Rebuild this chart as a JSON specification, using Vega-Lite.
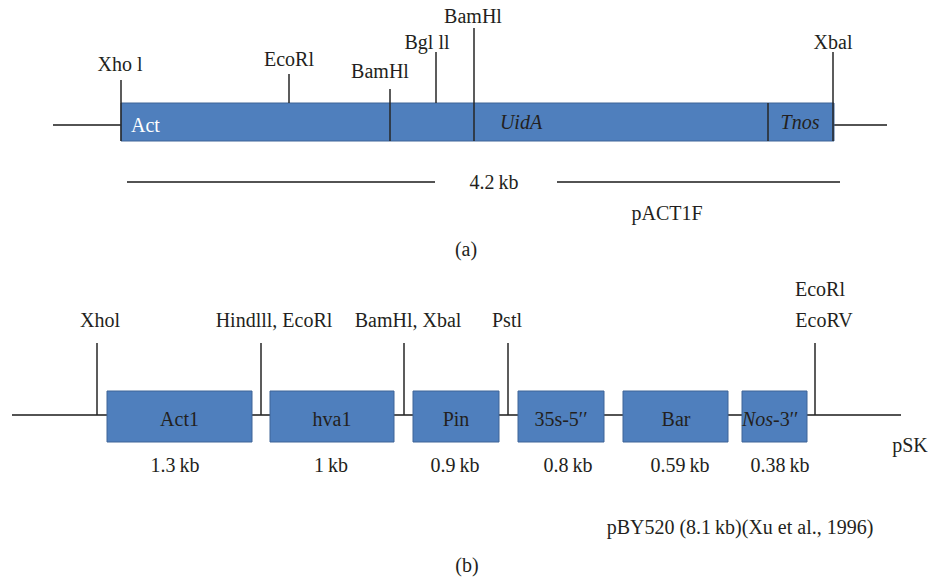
{
  "$schema": "https://vega.github.io/schema/vega-lite/v6.json",
  "width": 929,
  "height": 579,
  "autosize": {"type": "fit", "contains": "padding"},
  "padding": 0,
  "background": "#ffffff",
  "config": {"view": {"stroke": null}},
  "datasets": {
    "backbone": [
      {"x": 53, "x2": 121, "y": 125, "y2": 125},
      {"x": 833, "x2": 887, "y": 125, "y2": 125},
      {"x": 127, "x2": 435, "y": 182, "y2": 182},
      {"x": 557, "x2": 840, "y": 182, "y2": 182},
      {"x": 12, "x2": 901, "y": 415, "y2": 415}
    ],
    "boxes": [
      {"x": 121, "x2": 834, "y": 103, "y2": 141},
      {"x": 107, "x2": 252, "y": 391, "y2": 442},
      {"x": 270, "x2": 394, "y": 391, "y2": 442},
      {"x": 413, "x2": 499, "y": 391, "y2": 442},
      {"x": 518, "x2": 604, "y": 391, "y2": 442},
      {"x": 623, "x2": 728, "y": 391, "y2": 442},
      {"x": 742, "x2": 807, "y": 391, "y2": 442}
    ],
    "ticks": [
      {"x": 121, "x2": 121, "y": 80, "y2": 141},
      {"x": 289, "x2": 289, "y": 74, "y2": 103},
      {"x": 390, "x2": 390, "y": 89, "y2": 141},
      {"x": 436, "x2": 436, "y": 52, "y2": 103},
      {"x": 474, "x2": 474, "y": 28, "y2": 141},
      {"x": 768, "x2": 768, "y": 103, "y2": 141},
      {"x": 833, "x2": 833, "y": 52, "y2": 141},
      {"x": 97, "x2": 97, "y": 343, "y2": 415},
      {"x": 261, "x2": 261, "y": 343, "y2": 415},
      {"x": 404, "x2": 404, "y": 343, "y2": 415},
      {"x": 508, "x2": 508, "y": 343, "y2": 415},
      {"x": 815, "x2": 815, "y": 343, "y2": 415}
    ],
    "labels": [
      {"x": 120, "y": 71, "label": "Xho l"},
      {"x": 289, "y": 66, "label": "EcoRl"},
      {"x": 380, "y": 78, "label": "BamHl"},
      {"x": 427, "y": 49, "label": "Bgl ll"},
      {"x": 473, "y": 23, "label": "BamHl"},
      {"x": 833, "y": 49, "label": "Xbal"},
      {"x": 494, "y": 189, "label": "4.2\u2009kb"},
      {"x": 667, "y": 220, "label": "pACT1F"},
      {"x": 466, "y": 256, "label": "(a)"},
      {"x": 100, "y": 327, "label": "Xhol"},
      {"x": 274, "y": 327, "label": "Hindlll, EcoRl"},
      {"x": 408, "y": 327, "label": "BamHl, Xbal"},
      {"x": 507, "y": 327, "label": "Pstl"},
      {"x": 820, "y": 296, "label": "EcoRl"},
      {"x": 824, "y": 327, "label": "EcoRV"},
      {"x": 910, "y": 452, "label": "pSK"},
      {"x": 179.5, "y": 426, "label": "Act1"},
      {"x": 332, "y": 426, "label": "hva1"},
      {"x": 456, "y": 426, "label": "Pin"},
      {"x": 561, "y": 426, "label": "35s-5′′"},
      {"x": 676, "y": 426, "label": "Bar"},
      {"x": 175, "y": 472, "label": "1.3\u2009kb"},
      {"x": 331, "y": 472, "label": "1\u2009kb"},
      {"x": 455, "y": 472, "label": "0.9\u2009kb"},
      {"x": 568, "y": 472, "label": "0.8\u2009kb"},
      {"x": 680, "y": 472, "label": "0.59\u2009kb"},
      {"x": 780, "y": 472, "label": "0.38\u2009kb"},
      {"x": 740, "y": 534, "label": "pBY520 (8.1\u2009kb)(Xu et al., 1996)"},
      {"x": 467, "y": 572, "label": "(b)"}
    ],
    "italic": [
      {"x": 521, "y": 129, "label": "UidA"},
      {"x": 800, "y": 129, "label": "Tnos"}
    ],
    "italicRight": [
      {"x": 773, "y": 426, "label": "Nos"}
    ],
    "leftLabels": [
      {"x": 773, "y": 426, "label": "-3′′"}
    ],
    "white": [
      {"x": 131, "y": 132, "label": "Act"}
    ]
  },
  "layer": [
    {
      "data": {"name": "backbone"},
      "mark": {"type": "rule", "color": "#1a1a1a", "strokeWidth": 1.5},
      "encoding": {
        "x": {"field": "x", "type": "quantitative", "scale": {"domain": [0, 929]}, "axis": null},
        "x2": {"field": "x2"},
        "y": {"field": "y", "type": "quantitative", "scale": {"domain": [0, 579], "reverse": true}, "axis": null},
        "y2": {"field": "y2"}
      }
    },
    {
      "data": {"name": "boxes"},
      "mark": {"type": "rect", "fill": "#4f7fbd", "stroke": "#3f6597", "strokeWidth": 1},
      "encoding": {
        "x": {"field": "x", "type": "quantitative", "scale": {"domain": [0, 929]}, "axis": null},
        "x2": {"field": "x2"},
        "y": {"field": "y", "type": "quantitative", "scale": {"domain": [0, 579], "reverse": true}, "axis": null},
        "y2": {"field": "y2"}
      }
    },
    {
      "data": {"name": "ticks"},
      "mark": {"type": "rule", "color": "#262626", "strokeWidth": 1.5},
      "encoding": {
        "x": {"field": "x", "type": "quantitative", "scale": {"domain": [0, 929]}, "axis": null},
        "x2": {"field": "x2"},
        "y": {"field": "y", "type": "quantitative", "scale": {"domain": [0, 579], "reverse": true}, "axis": null},
        "y2": {"field": "y2"}
      }
    },
    {
      "data": {"name": "labels"},
      "mark": {"type": "text", "font": "Liberation Serif", "fontSize": 20, "color": "#231f20", "align": "center", "baseline": "alphabetic"},
      "encoding": {
        "x": {"field": "x", "type": "quantitative", "scale": {"domain": [0, 929]}, "axis": null},
        "y": {"field": "y", "type": "quantitative", "scale": {"domain": [0, 579], "reverse": true}, "axis": null},
        "text": {"field": "label"}
      }
    },
    {
      "data": {"name": "italic"},
      "mark": {"type": "text", "font": "Liberation Serif", "fontSize": 20, "fontStyle": "italic", "color": "#231f20", "align": "center", "baseline": "alphabetic"},
      "encoding": {
        "x": {"field": "x", "type": "quantitative", "scale": {"domain": [0, 929]}, "axis": null},
        "y": {"field": "y", "type": "quantitative", "scale": {"domain": [0, 579], "reverse": true}, "axis": null},
        "text": {"field": "label"}
      }
    },
    {
      "data": {"name": "italicRight"},
      "mark": {"type": "text", "font": "Liberation Serif", "fontSize": 20, "fontStyle": "italic", "color": "#231f20", "align": "right", "baseline": "alphabetic"},
      "encoding": {
        "x": {"field": "x", "type": "quantitative", "scale": {"domain": [0, 929]}, "axis": null},
        "y": {"field": "y", "type": "quantitative", "scale": {"domain": [0, 579], "reverse": true}, "axis": null},
        "text": {"field": "label"}
      }
    },
    {
      "data": {"name": "leftLabels"},
      "mark": {"type": "text", "font": "Liberation Serif", "fontSize": 20, "color": "#231f20", "align": "left", "baseline": "alphabetic"},
      "encoding": {
        "x": {"field": "x", "type": "quantitative", "scale": {"domain": [0, 929]}, "axis": null},
        "y": {"field": "y", "type": "quantitative", "scale": {"domain": [0, 579], "reverse": true}, "axis": null},
        "text": {"field": "label"}
      }
    },
    {
      "data": {"name": "white"},
      "mark": {"type": "text", "font": "Liberation Serif", "fontSize": 20, "color": "#ffffff", "align": "left", "baseline": "alphabetic"},
      "encoding": {
        "x": {"field": "x", "type": "quantitative", "scale": {"domain": [0, 929]}, "axis": null},
        "y": {"field": "y", "type": "quantitative", "scale": {"domain": [0, 579], "reverse": true}, "axis": null},
        "text": {"field": "label"}
      }
    }
  ]
}
